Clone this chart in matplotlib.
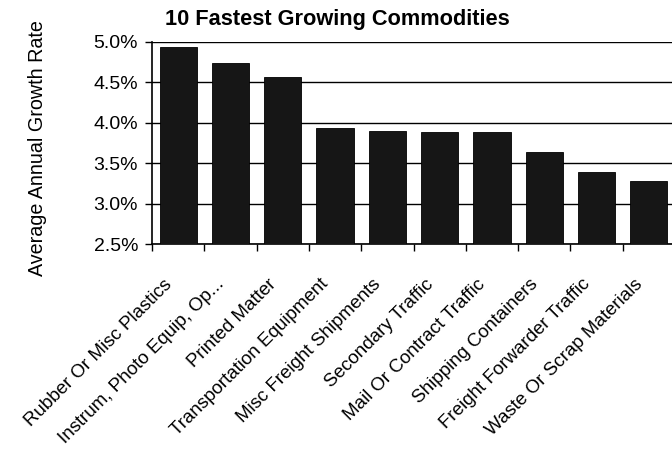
import matplotlib
matplotlib.use("Agg")
from matplotlib import pyplot as plt
from matplotlib.ticker import FuncFormatter, FixedLocator
from matplotlib.transforms import ScaledTranslation
import numpy as np

commodities = [
    "Rubber Or Misc Plastics",
    "Instrum, Photo Equip, Op...",
    "Printed Matter",
    "Transportation Equipment",
    "Misc Freight Shipments",
    "Secondary Traffic",
    "Mail Or Contract Traffic",
    "Shipping Containers",
    "Freight Forwarder Traffic",
    "Waste Or Scrap Materials",
]
growth_rate = [4.93, 4.74, 4.57, 3.93, 3.90, 3.89, 3.88, 3.64, 3.39, 3.28]
y_ticks = [2.5, 3.0, 3.5, 4.0, 4.5, 5.0]

plt.rcParams["font.family"] = ["Liberation Sans", "DejaVu Sans"]

fig = plt.figure(figsize=(6.72, 4.49), dpi=100)
# axes run slightly past the right edge, as in the original screenshot
ax = fig.add_axes([152 / 672, 1 - 244.3 / 449, (675 - 152) / 672, (244.3 - 41.7) / 449])

x = np.arange(len(commodities))
ax.bar(x, growth_rate, width=0.71, color="#161616", edgecolor="black",
       linewidth=0.6, zorder=3)

ax.set_xlim(-0.5, len(commodities) - 0.5)
ax.set_ylim(2.5, 5.0)
ax.set_yticks(y_ticks)
ax.yaxis.set_major_formatter(FuncFormatter(lambda v, p: f"{v:.1f}%"))
ax.grid(axis="y", color="black", linewidth=1.0, zorder=0)

# category labels near bar centers, tick marks at category boundaries
ax.set_xticks(x)
ax.set_xticklabels(commodities, rotation=45, ha="right", va="center",
                   rotation_mode="anchor", fontsize=13.5)
ax.tick_params(axis="x", which="major", length=0, pad=27)
shift = ScaledTranslation(-9 / 100, 0, fig.dpi_scale_trans)
for lbl in ax.get_xticklabels():
    lbl.set_transform(lbl.get_transform() + shift)
ax.xaxis.set_minor_locator(FixedLocator(np.arange(-0.5, len(commodities), 1.0)))
ax.tick_params(axis="x", which="minor", length=5, width=1, direction="out")
ax.tick_params(axis="y", length=5, width=1, direction="out", labelsize=14, pad=5)

for side in ["top", "right"]:
    ax.spines[side].set_visible(False)
ax.spines["left"].set_linewidth(1.2)
ax.spines["bottom"].set_linewidth(1.2)

fig.text(38 / 672, 1 - 148.5 / 449, "Average Annual Growth Rate", rotation=90,
         ha="center", va="center", fontsize=14.2)
fig.text(337 / 672, 1 - 24.5 / 449, "10 Fastest Growing Commodities", ha="center",
         va="baseline", fontsize=15.7, fontweight="bold")

fig.savefig("out.png", dpi=100)
